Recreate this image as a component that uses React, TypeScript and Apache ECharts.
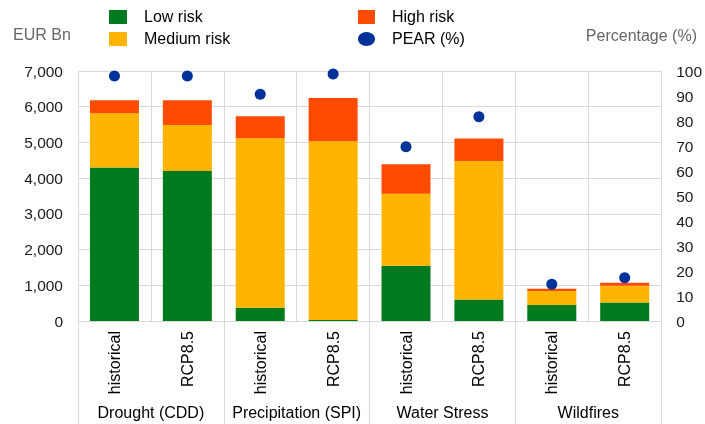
import React, { useEffect, useRef } from "react";
import * as echarts from "echarts";

const categories = ["historical", "RCP8.5", "historical", "RCP8.5", "historical", "RCP8.5", "historical", "RCP8.5"];
const groups = ["Drought (CDD)", "Precipitation (SPI)", "Water Stress", "Wildfires"];
const lowRisk = [4300, 4200, 370, 25, 1550, 600, 450, 520];
const mediumRisk = [1520, 1290, 4750, 5010, 2010, 3880, 390, 470];
const highRisk = [360, 690, 610, 1210, 830, 630, 60, 80];
const pear = [98, 98, 90.7, 98.8, 69.7, 81.7, 14.7, 17.3];
const leftTicks = { min: 0, max: 7000, interval: 1000 };
const rightTicks = { min: 0, max: 100, interval: 10 };

const GREEN = "#007a1e";
const YELLOW = "#ffb400";
const RED = "#ff4b00";
const BLUE = "#003299";
const GRID = "#d9d9d9";
const FONT = "Liberation Sans, Arial, sans-serif";

export default function App() {
  const ref = useRef<HTMLDivElement>(null);
  useEffect(() => {
    if (!ref.current) return;
    const chart = echarts.init(ref.current, undefined, { renderer: "svg" });
    const tickText = { color: "#1a1a1a", fontSize: 15.5, fontFamily: FONT };
    chart.setOption({
      animation: false,
      textStyle: { fontFamily: FONT },
      grid: { left: 78, right: 42, top: 71, bottom: 103, containLabel: false },
      xAxis: [
        {
          type: "category",
          data: categories,
          position: "bottom",
          axisLine: { show: true, lineStyle: { color: GRID, width: 1 } },
          axisTick: { show: false },
          axisLabel: { rotate: 90, margin: 10, interval: 0, ...tickText, fontSize: 16, color: "#000" },
          splitLine: { show: true, interval: 0, lineStyle: { color: GRID, width: 1 } },
        },
        {
          type: "category",
          data: groups,
          position: "bottom",
          offset: 0,
          axisLine: { show: false },
          axisTick: { show: true, interval: 0, length: 103, lineStyle: { color: GRID, width: 1 } },
          axisLabel: { interval: 0, margin: 83, fontSize: 16, color: "#000", fontFamily: FONT },
          splitLine: { show: false },
        },
      ],
      yAxis: [
        {
          type: "value",
          ...leftTicks,
          position: "left",
          axisLine: { show: true, lineStyle: { color: GRID } },
          axisTick: { show: false },
          axisLabel: {
            margin: 15,
            ...tickText,
            formatter: (v: number) => v.toLocaleString("en-US"),
          },
          splitLine: { show: true, lineStyle: { color: GRID, width: 1 } },
        },
        {
          type: "value",
          ...rightTicks,
          position: "right",
          axisLine: { show: true, lineStyle: { color: GRID } },
          axisTick: { show: false },
          axisLabel: { margin: 15, ...tickText },
          splitLine: { show: false },
        },
      ],
      series: [
        { name: "Low risk", type: "bar", stack: "risk", data: lowRisk, barWidth: 49, itemStyle: { color: GREEN } },
        { name: "Medium risk", type: "bar", stack: "risk", data: mediumRisk, barWidth: 49, itemStyle: { color: YELLOW } },
        { name: "High risk", type: "bar", stack: "risk", data: highRisk, barWidth: 49, itemStyle: { color: RED } },
        {
          name: "PEAR (%)",
          type: "scatter",
          yAxisIndex: 1,
          data: pear,
          symbol: "circle",
          symbolSize: 11,
          itemStyle: { color: BLUE, opacity: 1 },
          z: 5,
        },
      ],
      graphic: [
        { type: "text", left: 13, top: 26, style: { text: "EUR Bn", fontSize: 16, fill: "#666666", fontFamily: FONT } },
        { type: "text", right: 8, top: 27, style: { text: "Percentage (%)", fontSize: 16, fill: "#666666", fontFamily: FONT } },
        { type: "rect", shape: { x: 109, y: 10, width: 18, height: 14 }, style: { fill: GREEN } },
        { type: "text", left: 144, top: 8, style: { text: "Low risk", fontSize: 16, fill: "#000", fontFamily: FONT } },
        { type: "rect", shape: { x: 109, y: 32, width: 18, height: 14 }, style: { fill: YELLOW } },
        { type: "text", left: 144, top: 30, style: { text: "Medium risk", fontSize: 16, fill: "#000", fontFamily: FONT } },
        { type: "rect", shape: { x: 358, y: 10, width: 17, height: 14 }, style: { fill: RED } },
        { type: "text", left: 392, top: 8, style: { text: "High risk", fontSize: 16, fill: "#000", fontFamily: FONT } },
        { type: "ellipse", shape: { cx: 366.5, cy: 39, rx: 8.5, ry: 7 }, style: { fill: BLUE } },
        { type: "text", left: 392, top: 30, style: { text: "PEAR (%)", fontSize: 16, fill: "#000", fontFamily: FONT } },
      ],
    });
    return () => chart.dispose();
  }, []);
  return <div ref={ref} style={{ position: "fixed", left: 0, top: 0, width: 705, height: 424 }} />;
}
